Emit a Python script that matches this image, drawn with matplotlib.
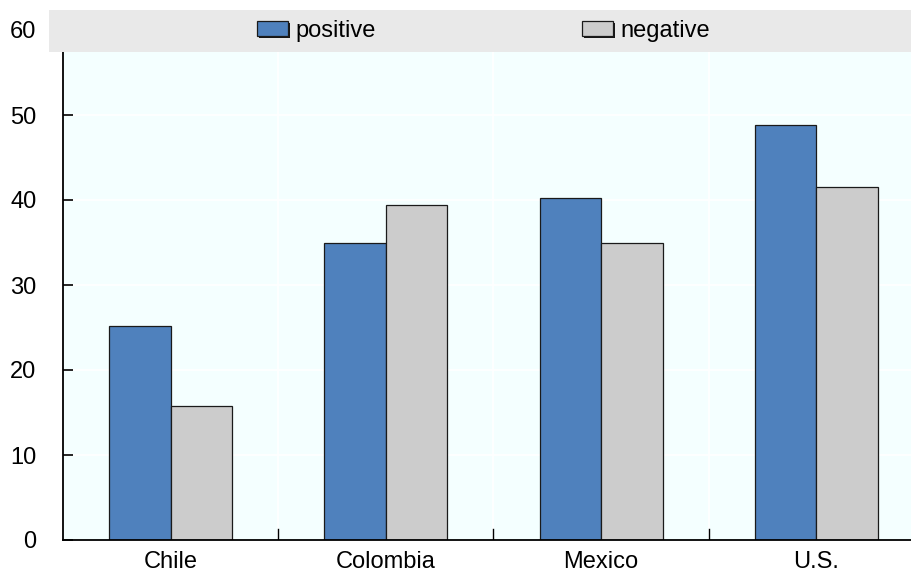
import matplotlib
matplotlib.use("Agg")
import matplotlib.pyplot as plt
import numpy as np
from matplotlib.patches import Rectangle
from matplotlib import patheffects as pe
from matplotlib import font_manager as fm

categories = ["Chile", "Colombia", "Mexico", "U.S."]
positive = [25.2, 34.9, 40.2, 48.8]
negative = [15.8, 39.4, 34.9, 41.5]
yticks = [0, 10, 20, 30, 40, 50, 60]

names = {f.name for f in fm.fontManager.ttflist}
fam = 'Liberation Sans Narrow' if 'Liberation Sans Narrow' in names else 'Liberation Sans'
plt.rcParams['font.family'] = [fam, 'DejaVu Sans']
FS = 20 if fam == 'Liberation Sans Narrow' else 17

W, H = 912, 578
fig = plt.figure(figsize=(W/100, H/100), dpi=100)
ax_left, ax_right, ax_bottom, ax_top = 63, 924, 540, 10
ax = fig.add_axes([ax_left/W, (H-ax_bottom)/H, (ax_right-ax_left)/W, (ax_bottom-ax_top)/H])
ax.set_facecolor('#F4FFFF')

x = np.arange(len(categories))
w = 0.286
ax.bar(x - w/2, positive, w, color='#4F81BD', edgecolor='#1a1a1a', linewidth=0.9, label='positive', zorder=3)
ax.bar(x + w/2, negative, w, color='#CCCCCC', edgecolor='#1a1a1a', linewidth=0.9, label='negative', zorder=3)

ppu = 8.5  # pixels per unit
ytop = (ax_bottom - ax_top) / ppu
ax.set_ylim(0, ytop)
ax.set_xlim(-0.5, len(categories) - 0.5)

band_bottom = (ax_bottom - 52) / ppu
fig.patches.append(Rectangle((49/W, (H-52)/H), (W-49)/W, 42/H, transform=fig.transFigure,
                             facecolor='#E9E9E9', edgecolor='none', zorder=0.5))

for yv in yticks[1:-1]:
    ax.axhline(yv, color='white', linewidth=1.2, zorder=1)
for xb in [0.5, 1.5, 2.5]:
    ax.plot([xb, xb], [0, band_bottom], color='white', linewidth=1.2, zorder=1)
    ax.plot([xb, xb], [0, 1.25], color='black', linewidth=1.0, zorder=4)

ax.set_yticks(yticks)
ax.set_yticklabels([str(v) for v in yticks], fontsize=FS)
ax.set_xticks(x)
ax.set_xticklabels(categories, fontsize=FS)
ax.tick_params(axis='x', length=0, pad=8)
ax.tick_params(axis='y', direction='in', length=7, width=1.2, pad=19, left=True)
ax.yaxis.get_major_ticks()[-1].tick1line.set_visible(False)

for s in ['top', 'right']:
    ax.spines[s].set_visible(False)
ax.spines['left'].set_bounds(0, band_bottom)
ax.spines['left'].set_linewidth(1.3)
ax.spines['bottom'].set_linewidth(1.3)
ax.spines['left'].set_zorder(5)
ax.spines['bottom'].set_zorder(5)

handles, labels = ax.get_legend_handles_labels()
em = FS * 100 / 72
for h, l, xpix in zip(handles, labels, [257, 582]):
    lg = fig.legend([h], [l], loc='center left', bbox_to_anchor=(xpix/W, (H-31)/H),
                    frameon=False, fontsize=FS, handlelength=31/em, handleheight=14/em,
                    handletextpad=7/em, borderpad=0, borderaxespad=0)
    for p in lg.get_patches():
        p.set_path_effects([pe.SimplePatchShadow(offset=(1.5, -1.5), shadow_rgbFace='black', alpha=0.9),
                            pe.Normal()])

fig.savefig("out.png", dpi=100)
